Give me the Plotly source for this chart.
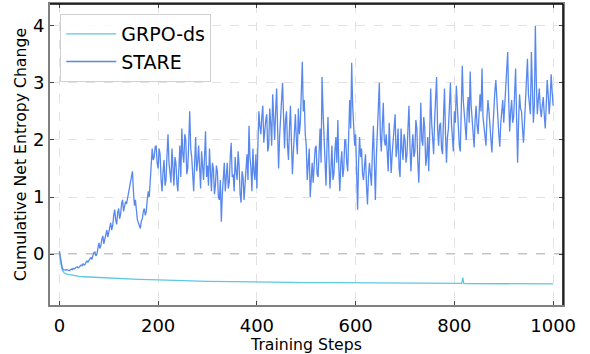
import plotly.graph_objects as go

# ---------------- data ----------------
stare_steps = list(range(0, 1001, 2))
stare_vals = [
    # 0-98
    0.05, -0.08, -0.2, -0.25, -0.27, -0.28, -0.28, -0.27, -0.27, -0.28,
    -0.29, -0.27, -0.26, -0.27, -0.25, -0.26, -0.24, -0.23, -0.22, -0.24,
    -0.23, -0.2, -0.19, -0.2, -0.17, -0.19, -0.18, -0.14, -0.12, -0.14,
    -0.1, -0.08, -0.06, -0.09, -0.02, 0.03, 0.04, -0.03, 0.0, 0.12,
    0.2, 0.1, 0.15, 0.26, 0.32, 0.18, 0.25, 0.36, 0.42, 0.3,
    # 100-198
    0.38, 0.5, 0.55, 0.42, 0.5, 0.68, 0.78, 0.6, 0.52, 0.72,
    0.8, 0.62, 0.7, 0.88, 0.95, 0.75, 0.82, 0.92, 0.88, 0.98,
    1.05, 1.2, 1.3, 1.42, 1.45, 1.1, 0.85, 0.95, 0.7, 0.6,
    0.55, 0.48, 0.45, 0.58, 0.62, 0.75, 0.8, 0.68, 0.75, 0.95,
    1.1, 1.0, 1.25, 1.6, 1.85, 1.65, 1.7, 1.88, 1.9, 1.6,
    # 200-298
    1.5, 1.85, 1.75, 1.3, 1.1, 1.45, 1.65, 1.2, 1.3, 1.75,
    2.1, 1.6, 1.45, 1.25, 1.85, 1.5, 1.2, 1.7, 1.6, 1.25,
    1.1, 1.5, 1.9, 1.35, 2.2, 1.75, 1.6, 2.1, 2.0, 1.4,
    1.5, 1.95, 2.5, 1.85, 1.7, 1.4, 1.1, 1.6, 2.05, 1.45,
    1.6, 1.9, 1.35, 1.15, 1.8, 1.5, 1.3, 1.7, 2.15, 1.35,
    # 300-398
    1.55, 1.2, 1.85, 1.45, 1.1, 1.6, 1.5, 1.05, 1.2, 1.55,
    1.45, 1.0, 0.95, 1.3, 0.57, 1.05, 1.3, 1.6, 1.1, 1.4,
    1.6, 1.15, 1.25, 1.7, 1.95, 1.35, 1.4, 1.1, 1.7, 1.45,
    1.3, 1.8, 1.55, 1.05, 0.9, 1.45, 1.35, 0.95, 1.2, 1.5,
    1.75, 1.3, 2.25, 1.7, 1.5, 1.1, 1.85, 1.45, 1.3, 1.75,
    # 400-498
    1.15, 1.9, 2.5, 2.25, 2.1, 2.4, 2.6, 1.95, 2.2, 2.35,
    2.45, 1.8, 1.9, 2.55, 2.3, 1.9, 2.8, 2.2, 2.0, 2.5,
    2.9, 2.2, 1.5, 2.05, 2.3, 2.7, 3.0, 2.1, 1.85, 2.35,
    2.5, 1.9, 1.65, 2.2, 2.6, 1.95, 1.4, 1.8, 2.2, 2.45,
    2.0, 1.75, 2.55, 2.1, 2.3, 2.9, 3.37, 2.5, 2.7, 2.1,
    # 500-598
    1.9, 1.3, 1.55, 1.85, 1.0, 1.45, 1.6, 1.25, 1.5, 1.85,
    1.9, 1.4, 1.35, 1.75, 2.2, 1.6, 3.1, 2.5, 2.0, 1.55,
    1.2, 1.9, 2.4, 1.7, 1.15, 1.5, 1.9, 1.3, 1.4, 1.8,
    2.05, 1.6, 2.35, 1.5, 1.1, 1.6, 1.8, 1.35, 1.5, 2.0,
    2.0, 1.6, 1.45, 2.1, 2.7, 2.2, 3.35, 2.6, 2.3, 1.9,
    # 600-698
    2.1, 1.5, 0.78, 1.6, 2.05, 1.7, 1.85, 1.4, 1.3, 1.55,
    1.75, 1.2, 0.87, 1.35, 1.6, 1.4, 1.2, 1.8, 2.25, 1.6,
    0.95, 1.7, 2.2, 2.6, 3.0, 2.1, 1.8, 2.25, 2.65, 2.0,
    1.9, 2.1, 1.7, 1.45, 2.3, 1.9, 1.42, 1.75, 2.0, 2.2,
    2.45, 1.7, 1.85, 2.2, 1.5, 1.35, 2.2, 1.85, 1.65, 2.1,
    # 700-798
    2.0, 1.6, 1.75, 2.2, 2.6, 1.9, 1.45, 1.85, 2.1, 1.7,
    1.8, 2.35, 2.2, 1.6, 1.25, 1.9, 2.65, 2.0, 1.9, 2.4,
    2.2, 1.55, 1.7, 2.05, 1.45, 2.1, 2.9, 2.3, 2.0, 1.75,
    2.35, 2.7, 3.1, 2.2, 1.9, 2.25, 2.3, 1.85, 1.75, 2.4,
    2.9, 2.1, 1.6, 2.05, 2.2, 2.6, 3.0, 2.3, 2.05, 1.8,
    # 800-898
    2.5, 2.3, 2.95, 2.5, 2.2, 1.9, 1.8, 2.5, 3.3, 2.7,
    2.4, 2.1, 2.0, 2.5, 2.75, 2.3, 3.2, 2.6, 2.3, 2.05,
    1.87, 2.35, 2.6, 2.25, 2.1, 2.45, 2.8, 2.5, 3.25, 2.4,
    2.2, 2.0, 1.9, 2.4, 2.7, 2.5, 2.3, 2.0, 1.78, 2.2,
    2.6, 2.85, 3.05, 2.6, 2.4, 2.1, 1.88, 2.3, 2.5, 2.7,
    # 900-1000
    2.3, 2.6, 3.1, 3.3, 3.54, 2.7, 2.15, 2.5, 2.7, 2.3,
    2.4, 2.8, 3.25, 2.4, 1.6, 2.3, 2.8, 2.55, 2.5, 2.2,
    1.95, 2.3, 2.7, 2.9, 3.42, 2.8, 2.6, 2.45, 3.54, 2.9,
    2.3, 2.6, 4.0, 3.0, 2.45, 2.7, 2.9, 2.55, 2.4, 2.6,
    2.75, 2.45, 2.2, 2.6, 3.05, 2.8, 2.45, 2.7, 3.15, 2.85,
    2.6,
]

grpo_steps = [0, 2, 4, 6, 8, 10, 15, 20, 30, 40, 50, 60, 80, 100, 130, 160, 200, 250,
              300, 350, 400, 450, 500, 550, 600, 650, 700, 750, 800, 815, 817, 819,
              825, 850, 900, 950, 1000]
grpo_vals = [0.05, -0.1, -0.22, -0.28, -0.31, -0.33, -0.35, -0.36, -0.38, -0.39, -0.395,
             -0.40, -0.41, -0.415, -0.43, -0.44, -0.45, -0.465, -0.475, -0.48, -0.49,
             -0.495, -0.5, -0.5, -0.5, -0.505, -0.505, -0.51, -0.51, -0.51, -0.41, -0.51,
             -0.515, -0.515, -0.52, -0.52, -0.52]

x_ticks = [0, 200, 400, 600, 800, 1000]
y_ticks = [0, 1, 2, 3, 4]

FONT = "DejaVu Sans"

fig = go.Figure()
fig.add_trace(go.Scatter(x=grpo_steps, y=grpo_vals, mode="lines", name="GRPO-ds",
                         line=dict(color="rgb(92,200,228)", width=1.3)))
fig.add_trace(go.Scatter(x=stare_steps, y=stare_vals, mode="lines", name="STARE",
                         line=dict(color="rgb(88,136,238)", width=1.3)))

fig.add_hline(y=0, line=dict(color="#8a8a8a", width=1.3, dash="dash"), layer="below")

# top / right black spines
fig.add_shape(type="line", xref="paper", yref="paper", x0=0, x1=1, y0=1, y1=1,
              line=dict(color="black", width=1.5))
fig.add_shape(type="line", xref="paper", yref="paper", x0=1, x1=1, y0=0, y1=1,
              line=dict(color="black", width=1.5))

axis_common = dict(
    showline=True, linecolor="#808080", linewidth=2, mirror="ticks",
    ticks="inside", ticklen=4, tickwidth=1, tickcolor="#444",
    showgrid=True, gridcolor="#e2e2e2", gridwidth=0.8, griddash="dash",
    zeroline=False, tickfont=dict(family=FONT, size=18, color="black"),
)

fig.update_xaxes(range=[-19, 1020], tickvals=x_ticks, ticklabelstandoff=3,
                 title=dict(text="Training Steps", font=dict(family=FONT, size=15.7, color="black"),
                            standoff=1),
                 **axis_common)
fig.update_yaxes(range=[-0.89, 4.38], tickvals=y_ticks,
                 title=dict(text="Cumulative Net Entropy Change",
                            font=dict(family=FONT, size=15.7, color="black"), standoff=2),
                 **axis_common)

fig.update_layout(
    width=590, height=354,
    margin=dict(l=50, r=27, t=2, b=49),
    plot_bgcolor="white", paper_bgcolor="white",
    font=dict(family=FONT, color="black"),
    legend=dict(x=0.02, y=0.967, xanchor="left", yanchor="top",
                bgcolor="rgba(255,255,255,0.85)", bordercolor="#d0d0d0", borderwidth=1,
                itemwidth=50, tracegroupgap=0,
                font=dict(family=FONT, size=19, color="black")),
    showlegend=True,
)

fig.write_html("out.html")
